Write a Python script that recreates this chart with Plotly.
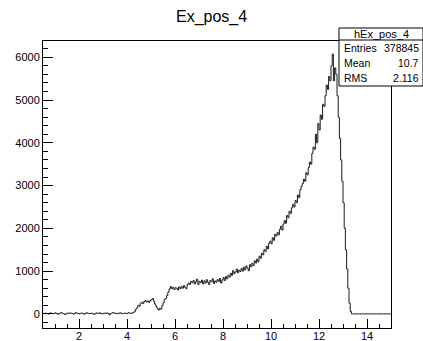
import plotly.graph_objects as go

# ---------------- data ----------------
TITLE = "Ex_pos_4"
HIST_NAME = "hEx_pos_4"
STATS_LABELS = ["Entries", "Mean", "RMS"]
STATS_VALUES = ["378845", "10.7", "2.116"]

BIN_LO = 0.5
BIN_W = 0.05

# 0.50 - 4.25 (flat, near zero)
counts_low = [
    12, 5, 18, 8, -6, 15, 22, 10, 3, 14,
    25, 9, -10, 6, 20, 28, 12, 4, -15, 2,
    18, 10, 24, 15, 6, -4, 11, 30, 16, 8,
    0, 12, 20, 5, -8, 10, 26, 14, 3, 9,
    18, 7, -12, 4, 22, 15, 10, 28, 6, -2,
    13, 19, 8, 24, 12, -24, 5, 16, 30, 20,
    9, 14, 2, 18, 25, 11, 6, 15, 20, 8,
    12, 28, 18, 10, 22,
]
# 4.25 - 13.35 (signal region)
counts_mid = [
    30, 55, 110, 140, 200, 180, 250, 270, 240, 290,
    310, 280, 300, 270, 310, 330, 360, 300, 230, 170,
    120, 90, 130, 110, 190, 260, 340, 360, 430, 510,
    580, 640, 590, 620, 570, 610, 600, 560, 630, 590,
    640, 600, 660, 620, 590, 680, 720, 690, 760, 730,
    780, 700, 750, 810, 690, 760, 730, 790, 700, 770,
    720, 800, 740, 690, 780, 750, 820, 710, 770, 740,
    800, 760, 830, 720, 790, 850, 780, 870, 820, 900,
    860, 950, 900, 1010, 940, 980, 1050, 960, 1020, 990,
    1060, 1000, 1090, 1030, 1120, 1070, 1010, 1150, 1100, 1180,
    1130, 1240, 1190, 1280, 1220, 1350, 1300, 1420, 1380, 1500,
    1460, 1580, 1520, 1650, 1700, 1640, 1780, 1720, 1860, 1820,
    1900, 1850, 1980, 2050, 1960, 2100, 2180, 2120, 2300, 2250,
    2400, 2350, 2480, 2560, 2500, 2650, 2600, 2780, 2720, 2900,
    2980, 3050, 3150, 3100, 3300, 3250, 3420, 3550, 3500, 3750,
    3900, 3850, 4200, 4000, 4450, 4300, 4650, 4550, 4900, 4850,
    5100, 5350, 5250, 5550, 5450, 5800, 6075, 5450, 5750, 5600,
    5100, 4600, 4100, 3600, 3100, 2600, 2000, 1500, 1050, 600,
    250, 60,
]
# 13.35 - 15.00 (empty)
counts_high = [
    0, 0, 0, 0, 0, 0, 0, 0, 0, 0,
    0, 0, 0, 0, 0, 0, 0, 0, 0, 0,
    0, 0, 0, 0, 0, 0, 0, 0, 0, 0,
    0, 0, 0,
]

X_RANGE = [0.5, 15.0]
Y_RANGE = [-330, 6380]
X_TICKS = [2, 4, 6, 8, 10, 12, 14]
Y_TICKS = [0, 1000, 2000, 3000, 4000, 5000, 6000]

# ---------------- build ----------------
counts = counts_low + counts_mid + counts_high
n = len(counts)
edges = [BIN_LO + BIN_W * i for i in range(n + 1)]
xs = edges
ys = counts + [counts[-1]]

W, H = 423, 341
# plot frame in page pixels: x 43..391, y 41..328
FL, FR, FT, FB = 43, 391, 41, 328
ML, MT = FL, FT
MR, MB = W - FR, H - FB
PW, PH = FR - FL, FB - FT

def px(x):  # pixel -> paper x
    return (x - FL) / PW

def py(y):  # pixel -> paper y
    return (FB - y) / PH

FONT = "Liberation Sans, Arial, Helvetica, sans-serif"

fig = go.Figure()
fig.add_trace(go.Scatter(
    x=xs, y=ys, mode="lines", line=dict(color="#1a1a1a", width=1, shape="hv"),
    hoverinfo="skip", showlegend=False,
))

axis_common = dict(
    showgrid=False, zeroline=False, showline=True, mirror=True,
    linecolor="#000000", linewidth=1, ticks="inside", tickcolor="#000000",
    tickfont=dict(family=FONT, size=11, color="#000000"),
)
fig.update_xaxes(range=X_RANGE, tickvals=X_TICKS, ticklen=9, ticklabelstandoff=-2,
                 minor=dict(dtick=0.5, tick0=0, ticklen=4, ticks="inside", tickcolor="#000000"),
                 **axis_common)
fig.update_yaxes(range=Y_RANGE, tickvals=Y_TICKS, ticklen=10,
                 minor=dict(dtick=200, tick0=0, ticklen=5, ticks="inside", tickcolor="#000000"),
                 **axis_common)

# stats box (pixels)
bx0, bx1, by0, by1, bsep = 339, 423, 28, 86, 40
shapes = [
    dict(type="rect", xref="paper", yref="paper", x0=px(bx0), x1=px(bx1), y0=py(by1), y1=py(by0),
         line=dict(color="#000000", width=1), fillcolor="#ffffff", layer="above"),
    dict(type="line", xref="paper", yref="paper", x0=px(bx0), x1=px(bx1), y0=py(bsep), y1=py(bsep),
         line=dict(color="#000000", width=1), layer="above"),
]
annotations = [
    dict(text=TITLE, xref="paper", yref="paper", x=px(W / 2), y=py(17), showarrow=False,
         xanchor="center", yanchor="middle", font=dict(family=FONT, size=16, color="#000000")),
    dict(text=HIST_NAME, xref="paper", yref="paper", x=px(381), y=py(34), showarrow=False,
         xanchor="center", yanchor="middle", font=dict(family=FONT, size=11, color="#000000")),
]
row_y = [48, 63, 78]
for lab, val, yy in zip(STATS_LABELS, STATS_VALUES, row_y):
    annotations.append(dict(text=lab, xref="paper", yref="paper", x=px(342), y=py(yy), showarrow=False,
                            xanchor="left", yanchor="middle", font=dict(family=FONT, size=10.5, color="#000000")))
    annotations.append(dict(text=val, xref="paper", yref="paper", x=px(421), y=py(yy), showarrow=False,
                            xanchor="right", yanchor="middle", font=dict(family=FONT, size=10.5, color="#000000")))

fig.update_layout(
    width=W, height=H, margin=dict(l=ML, r=MR, t=MT, b=MB, autoexpand=False),
    paper_bgcolor="#ffffff", plot_bgcolor="#ffffff",
    shapes=shapes, annotations=annotations, showlegend=False,
)
fig.write_html("out.html", config={"displayModeBar": False},
               post_script="document.body.style.margin='0';document.body.style.overflow='hidden';")
